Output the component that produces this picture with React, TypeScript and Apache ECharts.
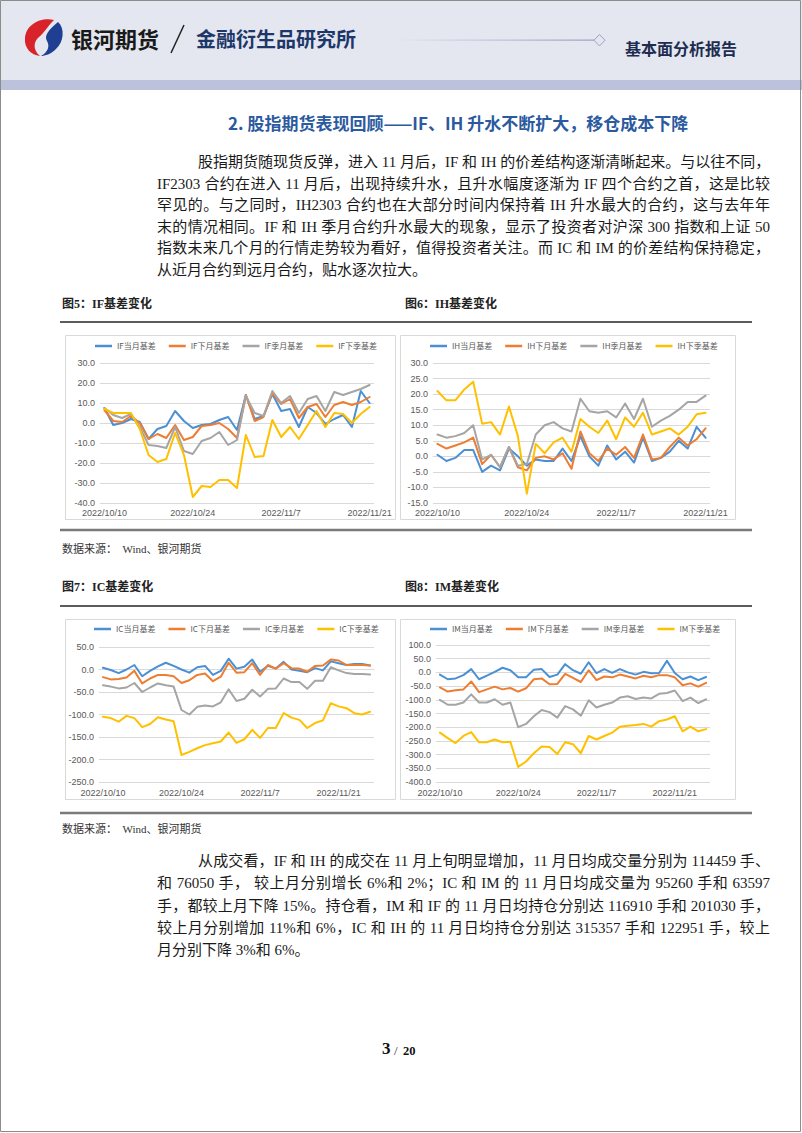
import React, { useEffect, useRef } from "react";
import * as echarts from "echarts";

// ---------- data ----------
const DATES = [
  "2022/10/10", "2022/10/11", "2022/10/12", "2022/10/13", "2022/10/14",
  "2022/10/17", "2022/10/18", "2022/10/19", "2022/10/20", "2022/10/21",
  "2022/10/24", "2022/10/25", "2022/10/26", "2022/10/27", "2022/10/28",
  "2022/10/31", "2022/11/1", "2022/11/2", "2022/11/3", "2022/11/4",
  "2022/11/7", "2022/11/8", "2022/11/9", "2022/11/10", "2022/11/11",
  "2022/11/14", "2022/11/15", "2022/11/16", "2022/11/17", "2022/11/18",
  "2022/11/21", "2022/11/22", "2022/11/23", "2022/11/24", "2022/11/25",
];
const DATES_IF_IH = DATES.slice(0, 31);
const DATES_IC_IM = DATES;

const IF_NAMES = ["IF当月基差", "IF下月基差", "IF季月基差", "IF下季基差"];
const IH_NAMES = ["IH当月基差", "IH下月基差", "IH季月基差", "IH下季基差"];
const IC_NAMES = ["IC当月基差", "IC下月基差", "IC季月基差", "IC下季基差"];
const IM_NAMES = ["IM当月基差", "IM下月基差", "IM季月基差", "IM下季基差"];

const IF_CUR = [7.5, -1, 0, 2, 0.5, -8, -3, -1.5, 6, 1, -2.5, -1, -0.5, 1.5, 3, -3.5, 14, 2, 3.5, 14.5, 6, 7, -2, 8, 5, -0.5, 2, 4, -2, 16, 10];
const IF_NEXT = [6.5, 1, 0.5, 3.5, 0, -8, -5.5, -7.5, -1, -8.5, -7, -1.5, -1, 0, -3, -7.5, 14, 1, 3, 15, 9.5, 12, 2.5, 8, 9.5, 3, 9, 10.5, 9, 10.5, 13];
const IF_QTR = [7.5, 4, 2.5, 4.5, -2, -11, -11.5, -12.5, -2, -14, -15.5, -9, -7.5, -4.5, -11, -8.5, 13.5, 5, 3.5, 16, 10, 13.5, 5, 12, 13.5, 6, 15.5, 14, 15.5, 17, 19];
const IF_NEXTQ = [7, 5, 5, 5, -3, -16, -19.5, -18, -5, -16, -37, -31.5, -32, -28.5, -28.5, -32.5, -6, -17, -16.5, 1.5, -7, -2, -8, -1, 6, -2, 5, 4.5, 0, 4.5, 8];

const IH_CUR = [0.5, -1.5, -0.5, 2, 2, -5, -3, -4.5, 2.5, 0, -3, -1, -1.5, -1.5, 2.5, -1.5, 6.5, 0, -3, 3.5, -1, 1.5, -2, 6, -1.5, -0.5, 1.5, 5, 2.5, 9.5, 6];
const IH_NEXT = [4, 2.5, 3.5, 4.5, 6, -2.5, 0.5, -3.5, 3, -3.5, -4.5, -0.5, 0, -1, 1, -4, 8, 1, -1.5, 2.5, 0.5, 3, -0.5, 7, -1, -0.5, 3, 6, 3.5, 5.5, 9];
const IH_QTR = [7, 6, 6.5, 7.5, 10, -1, 0.5, -3.5, 3, -3, -2.5, 7, 10, 11, 9, 8, 18.5, 14.5, 14, 14.5, 12.5, 17, 12, 18.5, 9.5, 11.5, 13, 15, 17.5, 17.5, 19.5];
const IH_NEXTQ = [21, 18, 18, 21.5, 24, 10.5, 11, 7, 16, 6.5, -12, 4, 1, 4.5, 6, 1.5, 12, 9.5, 7.5, 11.5, 5.5, 12.5, 9.5, 14, 7, 8, 9, 7, 9.5, 13.5, 14];

const IC_CUR = [4, -1, -8, 0, 10, -15, -3, 7, 15, 8, 0, -7, 5, 8, -12, -3, 24, 2, 6, 22, -5, 8, 2, 17, 0, -3, -6, 3, -2, 18, 14, 10, 12, 12, 9];
const IC_NEXT = [-17, -22, -21, -18, -3, -31, -20, -12, -12, -15, -30, -24, -12, -9, -26, -16, 15, -7, -6, 14, -12, 10, 2, 14, 3, 2, -5, 8, 9, 22, 20, 10, 10, 10, 9];
const IC_QTR = [-35, -38, -42, -40, -30, -50, -40, -31, -35, -38, -90, -100, -83, -80, -82, -73, -44, -70, -65, -45, -60, -43, -42, -20, -28, -28, -43, -25, -25, 5, -2, -8, -10, -10, -11];
const IC_NEXTQ = [-105, -108, -116, -103, -108, -128, -121, -106, -111, -115, -190, -183, -175, -168, -164, -160, -140, -163, -155, -134, -152, -130, -130, -97, -107, -112, -130, -119, -113, -75, -82, -86, -97, -100, -94];

const IM_CUR = [-8, -25, -22, -10, 12, -25, -12, 2, 17, 8, -18, -18, 10, 12, -17, -8, 30, 8, -5, 37, -3, 12, -2, 12, 0, -8, 2, -3, -2, 42, -2, -25, -15, -28, -17];
const IM_NEXT = [-55, -70, -65, -62, -33, -72, -62, -52, -62, -57, -70, -58, -25, -22, -43, -42, -5, -20, -35, 8, -28, -15, -18, -8, -15, -22, -12, -18, -10, -10, -18, -47, -40, -52, -38];
const IM_QTR = [-100, -118, -118, -110, -80, -110, -110, -98, -118, -110, -200, -188, -160, -137, -145, -165, -123, -135, -158, -102, -128, -118, -110, -92, -87, -97, -92, -95, -78, -75, -66, -105, -92, -112, -98];
const IM_NEXTQ = [-220, -240, -258, -232, -218, -255, -255, -245, -255, -253, -345, -325, -295, -270, -272, -298, -255, -262, -295, -232, -245, -232, -220, -198, -195, -192, -188, -198, -178, -172, -160, -215, -198, -215, -207];

const Y_MIN = [-40, -15, -250, -400];
const Y_MAX = [30, 30, 50, 100];
const Y_INTERVAL = [10, 5, 50, 50];

// ---------- text ----------
const TITLE = "2. 股指期货表现回顾——IF、IH 升水不断扩大，移仓成本下降";
const PARA1 = [
  "股指期货随现货反弹，进入 11 月后，IF 和 IH 的价差结构逐渐清晰起来。与以往不同，",
  "IF2303 合约在进入 11 月后，出现持续升水，且升水幅度逐渐为 IF 四个合约之首，这是比较",
  "罕见的。与之同时，IH2303 合约也在大部分时间内保持着 IH 升水最大的合约，这与去年年",
  "末的情况相同。IF 和 IH 季月合约升水最大的现象，显示了投资者对沪深 300 指数和上证 50",
  "指数未来几个月的行情走势较为看好，值得投资者关注。而 IC 和 IM 的价差结构保持稳定，",
  "从近月合约到远月合约，贴水逐次拉大。",
];
const PARA2 = [
  "从成交看，IF 和 IH 的成交在 11 月上旬明显增加，11 月日均成交量分别为 114459 手、",
  "和 76050 手， 较上月分别增长 6%和 2%；IC 和 IM 的 11 月日均成交量为 95260 手和 63597",
  "手，都较上月下降 15%。持仓看，IM 和 IF 的 11 月日均持仓分别达 116910 手和 201030 手，",
  "较上月分别增加 11%和 6%，IC 和 IH 的 11 月日均持仓分别达 315357 手和 122951 手，较上",
  "月分别下降 3%和 6%。",
];
const PARA1_Y = [162, 184, 205, 227, 248, 270];
const PARA2_Y = [861, 883, 906, 928, 950];

// ---------- styles ----------
const COLORS = ["#4b8fd4", "#ed7d31", "#a5a5a5", "#ffc000"];
const SERIF = "'Liberation Serif', 'Noto Sans CJK SC', serif";
const CJK = "'Noto Sans CJK SC', sans-serif";

const RED_D = "M54 20 C40 17 26 25 25 38 C24 48 31 55 40 56 C33 50 33 42 39 37 C44 33 47 27 54 20 Z";
const BLUE_D = "M58 22 C65 28 64 42 56 49 C51 54 45 56 41 56 C48 52 50 46 47 41 C44 36 48 30 58 22 Z";
let shapesRegistered = false;
function registerShapes() {
  if (shapesRegistered) return;
  echarts.graphic.registerShape("logoRed", echarts.graphic.extendPath(RED_D, {}));
  echarts.graphic.registerShape("logoBlue", echarts.graphic.extendPath(BLUE_D, {}));
  shapesRegistered = true;
}

const GRIDS = [
  { left: 100, top: 363, width: 274, height: 140 },
  { left: 433, top: 363, width: 277, height: 140 },
  { left: 99, top: 647, width: 275, height: 135 },
  { left: 436, top: 645, width: 274, height: 137 },
];
const LEGEND_POS = [
  { left: 95, top: 342 },
  { left: 430, top: 342 },
  { left: 94, top: 625 },
  { left: 430, top: 625 },
];

function buildOption() {
  const cats = [DATES_IF_IH, DATES_IF_IH, DATES_IC_IM, DATES_IC_IM];
  const names = [IF_NAMES, IH_NAMES, IC_NAMES, IM_NAMES];
  const values = [
    [IF_CUR, IF_NEXT, IF_QTR, IF_NEXTQ],
    [IH_CUR, IH_NEXT, IH_QTR, IH_NEXTQ],
    [IC_CUR, IC_NEXT, IC_QTR, IC_NEXTQ],
    [IM_CUR, IM_NEXT, IM_QTR, IM_NEXTQ],
  ];
  const xLabelMargin = [5, 5, 6, 6];

  const series: any[] = [];
  names.forEach((ns, ci) => {
    ns.forEach((n, si) => {
      series.push({
        name: n,
        type: "line",
        xAxisIndex: ci,
        yAxisIndex: ci,
        data: values[ci][si],
        symbol: "none",
        z: 2 + si,
        lineStyle: { width: 2, color: COLORS[si], join: "round", cap: "round" },
        itemStyle: { color: COLORS[si] },
      });
    });
  });

  const g: any[] = [];
  // header band
  g.push({ type: "rect", shape: { x: 0, y: 0, width: 802, height: 80 }, style: { fill: "#e4e7ef" }, silent: true });
  g.push({ type: "rect", shape: { x: 0, y: 80, width: 802, height: 10 }, style: { fill: "#bcc1dc" }, silent: true });
  // logo
  g.push({ type: "logoRed", style: { fill: "#d8232a" }, silent: true });
  g.push({ type: "logoBlue", style: { fill: "#1f3f92" }, silent: true });
  g.push({
    type: "text", x: 71, y: 38,
    style: { text: "银河期货", fontSize: 22, fontWeight: "bold", fill: "#1a1a1a", fontFamily: CJK, verticalAlign: "middle" },
  });
  g.push({ type: "line", shape: { x1: 171, y1: 53, x2: 184, y2: 25 }, style: { stroke: "#222", lineWidth: 1.5 } });
  g.push({
    type: "text", x: 196, y: 38,
    style: { text: "金融衍生品研究所", fontSize: 20, fontWeight: "bold", fill: "#1d3769", fontFamily: CJK, verticalAlign: "middle" },
  });
  g.push({
    type: "rect", shape: { x: 395, y: 39.6, width: 199, height: 1.2 },
    style: {
      fill: new echarts.graphic.LinearGradient(0, 0, 1, 0, [
        { offset: 0, color: "rgba(156,162,198,0)" },
        { offset: 1, color: "#9ca2c6" },
      ]),
    },
    silent: true,
  });
  g.push({
    type: "polygon", shape: { points: [[599.5, 34.5], [605, 40.2], [599.5, 46], [594, 40.2]] },
    style: { fill: "#e4e7ef", stroke: "#9ca2c6", lineWidth: 1 },
  });
  g.push({
    type: "text", x: 625, y: 48,
    style: { text: "基本面分析报告", fontSize: 16, fontWeight: "bold", fill: "#1e2d4f", fontFamily: CJK, verticalAlign: "middle" },
  });
  // section title
  g.push({
    type: "text", x: 228, y: 122,
    style: { text: TITLE, fontSize: 17, fontWeight: "bold", fill: "#2b5a9e", fontFamily: CJK, verticalAlign: "middle" },
  });
  // figure captions
  const caps = [
    { t: "图5：IF基差变化", x: 62, y: 304 },
    { t: "图6：IH基差变化", x: 405, y: 304 },
    { t: "图7：IC基差变化", x: 62, y: 587 },
    { t: "图8：IM基差变化", x: 405, y: 587 },
  ];
  caps.forEach((c) =>
    g.push({
      type: "text", x: c.x, y: c.y,
      style: { text: c.t, fontSize: 12, fontWeight: "bold", fill: "#222", fontFamily: SERIF, verticalAlign: "middle" },
    })
  );
  // rules
  [322, 606].forEach((y) =>
    g.push({ type: "rect", shape: { x: 60, y: y - 0.8, width: 692, height: 1.6 }, style: { fill: "#262626" }, silent: true })
  );
  [530, 813].forEach((y) =>
    g.push({ type: "rect", shape: { x: 60, y: y - 1.2, width: 692, height: 2.4 }, style: { fill: "#7a7a7a" }, silent: true })
  );
  // chart boxes
  const boxes = [
    { x: 65.5, y: 335.5, w: 330, h: 184 },
    { x: 400.5, y: 335.5, w: 335, h: 184 },
    { x: 65.5, y: 619.5, w: 330, h: 180 },
    { x: 400.5, y: 619.5, w: 335, h: 180 },
  ];
  boxes.forEach((b) =>
    g.push({
      type: "rect", shape: { x: b.x, y: b.y, width: b.w, height: b.h },
      style: { fill: "none", stroke: "#d9d9d9", lineWidth: 1 }, silent: true,
    })
  );
  // sources
  [549, 829].forEach((y) =>
    g.push({
      type: "text", x: 62, y,
      style: { text: "数据来源：  Wind、银河期货", fontSize: 11, fill: "#333", fontFamily: SERIF, verticalAlign: "middle" },
    })
  );
  // page number
  g.push({ type: "text", x: 382, y: 1057, style: { text: "3", fontSize: 17, fontWeight: "bold", fill: "#111", fontFamily: SERIF, verticalAlign: "bottom" } });
  g.push({ type: "text", x: 394, y: 1057, style: { text: "/", fontSize: 13, fill: "#333", fontFamily: SERIF, verticalAlign: "bottom" } });
  g.push({ type: "text", x: 403, y: 1057, style: { text: "20", fontSize: 12.5, fontWeight: "bold", fill: "#111", fontFamily: SERIF, verticalAlign: "bottom" } });
  // page border
  g.push({
    type: "rect", shape: { x: 0.5, y: 0.5, width: 800, height: 1131 },
    style: { fill: "none", stroke: "#8c8c8c", lineWidth: 1 }, silent: true, z: 50,
  });

  return {
    animation: false,
    backgroundColor: "#ffffff",
    grid: GRIDS.map((gr) => ({ ...gr, containLabel: false })),
    xAxis: cats.map((c, i) => ({
      type: "category",
      gridIndex: i,
      data: c,
      boundaryGap: true,
      axisLine: { show: true, lineStyle: { color: "#d9d9d9", width: 1 } },
      axisTick: { show: false },
      axisLabel: {
        interval: 9,
        fontSize: 9,
        color: "#595959",
        margin: xLabelMargin[i],
        fontFamily: "'Liberation Sans', sans-serif",
      },
      splitLine: { show: false },
    })),
    yAxis: GRIDS.map((_, i) => ({
      type: "value",
      gridIndex: i,
      min: Y_MIN[i],
      max: Y_MAX[i],
      interval: Y_INTERVAL[i],
      axisLine: { show: false },
      axisTick: { show: false },
      axisLabel: {
        fontSize: 9,
        color: "#595959",
        margin: 5,
        fontFamily: "'Liberation Sans', sans-serif",
        formatter: (v: number) => v.toFixed(1),
      },
      splitLine: { show: true, lineStyle: { color: "#d9d9d9", width: 1 } },
    })),
    legend: names.map((ns, i) => ({
      ...LEGEND_POS[i],
      data: ns,
      icon: "rect",
      itemWidth: 17,
      itemHeight: 2.5,
      itemGap: 13,
      padding: 0,
      textStyle: { fontSize: 8, color: "#595959", fontFamily: CJK },
    })),
    series,
    graphic: { elements: g },
  };
}

type Line = { text: string; y: number; indent: boolean; last: boolean };
function toLines(arr: string[], ys: number[]): Line[] {
  return arr.map((t, i) => ({ text: t, y: ys[i], indent: i === 0, last: i === arr.length - 1 }));
}

export default function App() {
  const ref = useRef<HTMLDivElement>(null);
  useEffect(() => {
    registerShapes();
    const chart = echarts.init(ref.current as HTMLDivElement, null, { renderer: "svg", width: 802, height: 1133 });
    chart.setOption(buildOption() as any);
    return () => chart.dispose();
  }, []);

  const lines = [...toLines(PARA1, PARA1_Y), ...toLines(PARA2, PARA2_Y)];

  return (
    <div style={{ position: "absolute", left: 0, top: 0, width: 802, height: 1133, overflow: "hidden", background: "#fff" }}>
      <div ref={ref} style={{ position: "absolute", left: 0, top: 0, width: 802, height: 1133 }} />
      {lines.map((l, i) => {
        const left = l.indent ? 198 : 157;
        return (
          <div
            key={i}
            style={{
              position: "absolute",
              left,
              top: l.y - 10,
              width: 770 - left,
              height: 20,
              lineHeight: "20px",
              fontSize: 15,
              fontFamily: SERIF,
              color: "#1a1a1a",
              whiteSpace: "nowrap",
              textAlign: l.last ? "left" : "justify",
              textAlignLast: l.last ? "left" : "justify",
            } as React.CSSProperties}
          >
            {l.text}
          </div>
        );
      })}
    </div>
  );
}
